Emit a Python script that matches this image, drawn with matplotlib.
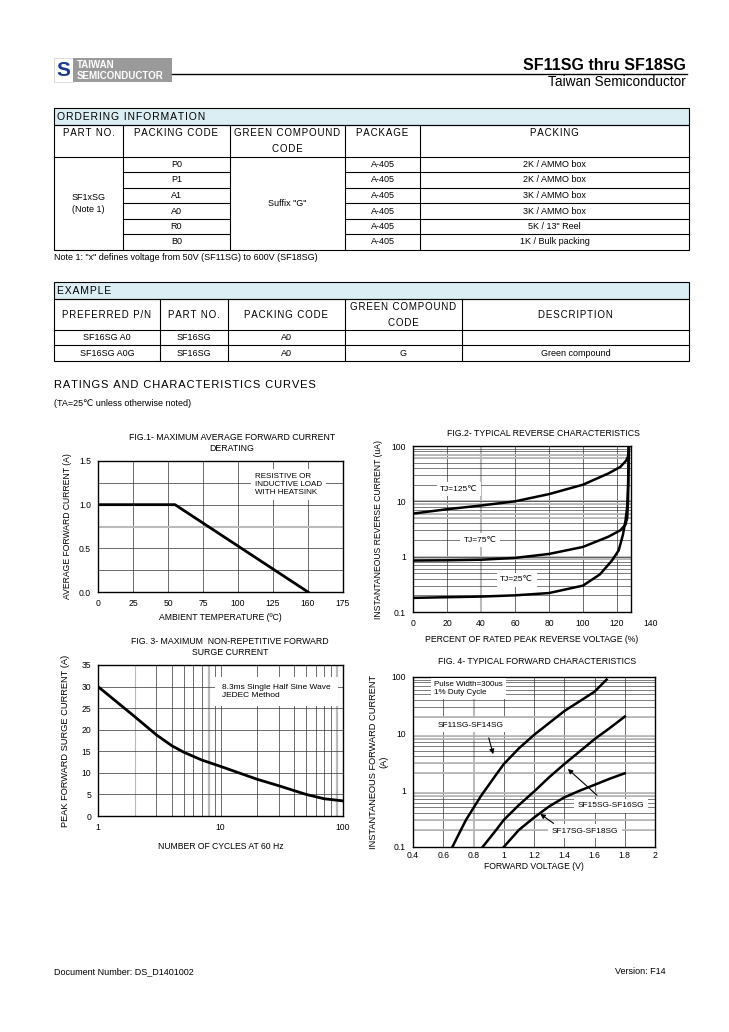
import numpy as np
import matplotlib
matplotlib.use("Agg")
import matplotlib.pyplot as plt
from matplotlib.patches import Rectangle

plt.rcParams["font.family"] = ["Liberation Sans", "DejaVu Sans"]

# ---- data ----
order_headers = ["PART NO.", "PACKING CODE", "GREEN COMPOUND\nCODE", "PACKAGE", "PACKING"]
order_part = "SF1xSG\n(Note 1)"
order_green = 'Suffix "G"'
order_codes = ["P0", "P1", "A1", "A0", "R0", "B0"]
order_package = ["A-405"] * 6
order_packing = ["2K / AMMO box", "2K / AMMO box", "3K / AMMO box",
                 "3K / AMMO box", '5K / 13" Reel', "1K / Bulk packing"]
order_note = 'Note 1: "x" defines voltage from 50V (SF11SG) to 600V (SF18SG)'

example_headers = ["PREFERRED P/N", "PART NO.", "PACKING CODE", "GREEN COMPOUND\nCODE", "DESCRIPTION"]
example_rows = [
    ["SF16SG A0", "SF16SG", "A0", "", ""],
    ["SF16SG A0G", "SF16SG", "A0", "G", "Green compound"],
]

# fig 1 - derating
fig1_temp = [0, 55, 150]
fig1_current = [1.0, 1.0, 0.0]
fig1_xticks = [0, 25, 50, 75, 100, 125, 150, 175]
fig1_xlabels = ["0", "25", "50", "75", "100", "125", "160", "175"]

# fig 2 - reverse characteristics (% of rated voltage, uA)
fig2_v125 = [0, 20, 40, 60, 80, 100, 115, 122, 125.5, 126.5, 127]
fig2_i125 = [6.0, 7.2, 8.4, 10.0, 13.5, 20.0, 32.0, 42.0, 55.0, 65.0, 100.0]
fig2_v75 = [0, 20, 40, 60, 80, 100, 115, 122, 125, 126, 126.5, 127]
fig2_i75 = [0.85, 0.86, 0.88, 0.95, 1.12, 1.5, 2.3, 3.0, 3.8, 5.0, 10.0, 100.0]
fig2_v25 = [0, 20, 40, 60, 80, 100, 110, 117, 121, 123.5, 125, 126, 126.5, 127]
fig2_i25 = [0.18, 0.185, 0.19, 0.2, 0.22, 0.3, 0.48, 0.85, 1.3, 2.5, 4.5, 8.0, 20.0, 100.0]

# fig 3 - surge current
fig3_cycles = [1, 2, 3, 4, 5, 7, 10, 20, 30, 50, 70, 100]
fig3_current = [30, 23, 18.8, 16.3, 14.8, 13.0, 11.5, 8.5, 7.0, 5.0, 4.0, 3.5]

# fig 4 - forward characteristics (V, A)
fig4_v1 = [0.66, 0.75, 0.85, 0.95, 1.0, 1.1, 1.2, 1.4, 1.6, 1.68]
fig4_i1 = [0.1, 0.3, 0.8, 1.9, 2.9, 5.5, 9.5, 25.0, 55.0, 90.0]
fig4_v2 = [0.86, 0.95, 1.0, 1.1, 1.2, 1.3, 1.4, 1.5, 1.6, 1.7, 1.8]
fig4_i2 = [0.1, 0.2, 0.3, 0.55, 0.95, 1.7, 2.9, 4.8, 8.0, 12.5, 20.0]
fig4_v3 = [1.0, 1.1, 1.2, 1.3, 1.4, 1.5, 1.6, 1.7, 1.8]
fig4_i3 = [0.1, 0.2, 0.33, 0.52, 0.75, 0.98, 1.25, 1.6, 2.0]

W, H = 729, 1032
fig = plt.figure(figsize=(W / 100, H / 100), dpi=100)

page = fig.add_axes([0, 0, 1, 1])
page.set_xlim(0, W)
page.set_ylim(H, 0)
page.axis("off")


def add_ax(x0, y0, x1, y1):
    return fig.add_axes([x0 / W, 1 - y1 / H, (x1 - x0) / W, (y1 - y0) / H])


def hline(x0, x1, y, lw=0.8):
    page.plot([x0, x1], [y, y], color="black", lw=lw)


def vline(x, y0, y1, lw=0.8):
    page.plot([x, x], [y0, y1], color="black", lw=lw)


def spaced(s):
    # loose letter spacing like the datasheet headings
    return "\n".join("\u200a".join(line) for line in s.split("\n"))


# ---- header ----
page.add_patch(Rectangle((54, 58), 19, 24, facecolor="white", edgecolor="#cccccc", lw=0.5))
page.text(63.5, 70.5, "S", color="#1f3d8f", fontsize=15, fontweight="bold", ha="center", va="center")
page.add_patch(Rectangle((73, 58), 99, 24, facecolor="#9a9a9a", edgecolor="none"))
page.text(77, 64.5, "TAIWAN", color="white", fontsize=7, fontweight="bold", va="center")
page.text(77, 76, "SEMICONDUCTOR", color="white", fontsize=7, fontweight="bold", va="center")
hline(172, 687, 74, lw=1.0)
page.text(686, 70.5, "SF11SG thru SF18SG", fontsize=11.5, fontweight="bold", ha="right", va="baseline")
page.text(686, 86.5, "Taiwan Semiconductor", fontsize=9.8, ha="right", va="baseline")

# ---- ordering information table ----
cols = [54, 123, 230, 345, 420, 689]
page.add_patch(Rectangle((54, 108), 635, 17, facecolor="#dbeef4", edgecolor="black", lw=0.8))
page.text(57, 116.5, spaced("ORDERING INFORMATION"), fontsize=7.5, va="center")
rows = [125, 157, 172, 188, 203, 219, 234, 250]
page.add_patch(Rectangle((54, 125), 635, 125, facecolor="none", edgecolor="black", lw=0.8))
hline(54, 689, 157)
for y in rows[2:-1]:
    hline(123, 230, y)
    hline(345, 689, y)
for x in cols[1:-1]:
    vline(x, 125, 250)
for i, h in enumerate(order_headers):
    page.text((cols[i] + cols[i + 1]) / 2, 128, spaced(h), fontsize=7, ha="center", va="top",
              linespacing=1.75)
for r in range(len(order_codes)):
    yc = (rows[r + 1] + rows[r + 2]) / 2
    page.text((cols[1] + cols[2]) / 2, yc, order_codes[r], fontsize=6.5, ha="center", va="center")
    page.text((cols[3] + cols[4]) / 2, yc, order_package[r], fontsize=6.5, ha="center", va="center")
    page.text((cols[4] + cols[5]) / 2, yc, order_packing[r], fontsize=6.5, ha="center", va="center")
page.text((cols[0] + cols[1]) / 2, 203.5, order_part, fontsize=6.5, ha="center", va="center",
          linespacing=1.5)
page.text((cols[2] + cols[3]) / 2, 203.5, order_green, fontsize=6.5, ha="center", va="center")
page.text(54, 257.5, order_note, fontsize=6.5, va="center")

# ---- example table ----
cols = [54, 160, 228, 345, 462, 689]
page.add_patch(Rectangle((54, 282), 635, 17, facecolor="#dbeef4", edgecolor="black", lw=0.8))
page.text(57, 290.5, spaced("EXAMPLE"), fontsize=7.5, va="center")
rows = [299, 330, 345, 361]
page.add_patch(Rectangle((54, 299), 635, 62, facecolor="none", edgecolor="black", lw=0.8))
for y in rows[1:-1]:
    hline(54, 689, y)
for x in cols[1:-1]:
    vline(x, 299, 361)
for i, h in enumerate(example_headers):
    page.text((cols[i] + cols[i + 1]) / 2, 314.5, spaced(h), fontsize=7, ha="center", va="center",
              linespacing=1.75)
for r, row in enumerate(example_rows):
    yc = (rows[r + 1] + rows[r + 2]) / 2
    for i, v in enumerate(row):
        page.text((cols[i] + cols[i + 1]) / 2, yc, v, fontsize=6.5, ha="center", va="center")

page.text(54, 385, spaced("RATINGS AND CHARACTERISTICS CURVES"), fontsize=8, va="center")
page.text(54, 404, "(TA=25\u2103 unless otherwise noted)", fontsize=6.5, va="center")

# footer
page.text(54, 972, "Document Number: DS_D1401002", fontsize=6.5, va="center")
page.text(666, 972, "Version: F14", fontsize=6.5, va="center", ha="right")

DARK = "#333333"
GRAY = "#bbbbbb"
TS = 6.2


def style(ax):
    for s in ax.spines.values():
        s.set_linewidth(1.0)
    ax.tick_params(length=0, labelsize=TS, pad=5)


# ---- fig 1 ----
ax1 = add_ax(98, 461, 343, 592)
for x in [25, 50, 75, 100, 125, 150]:
    ax1.axvline(x, color=DARK, lw=0.5)
for y in [0.25, 0.5, 1.0, 1.25]:
    ax1.axhline(y, color=DARK, lw=0.5)
ax1.axhline(0.75, color=GRAY, lw=1.5)
ax1.plot(fig1_temp, fig1_current, color="black", lw=2.0)
ax1.set_xlim(0, 175)
ax1.set_ylim(0, 1.5)
ax1.set_xticks(fig1_xticks)
ax1.set_xticklabels(fig1_xlabels)
ax1.set_yticks([0, 0.5, 1.0, 1.5])
ax1.set_yticklabels(["0.0", "0.5", "1.0", "1.5"])
style(ax1)
ax1.text(112, 1.36, "RESISTIVE OR\nINDUCTIVE LOAD\nWITH HEATSINK", fontsize=5.8, va="top",
         bbox=dict(facecolor="white", edgecolor="none", pad=3))
ax1.set_xlabel("AMBIENT TEMPERATURE (\u00baC)", fontsize=6.2, labelpad=4)
ax1.set_ylabel("AVERAGE FORWARD CURRENT (A)", fontsize=6.2, labelpad=5)
page.text(232, 443, "FIG.1- MAXIMUM AVERAGE FORWARD CURRENT\nDERATING", fontsize=6.3,
          ha="center", va="center", linespacing=1.2)

# ---- fig 2 ----
# the plotted frame stops at ~128 % while the scale runs to 140
XR = 128
ax2 = add_ax(413, 446, 651, 612)
ax2.set_xlim(0, 140)
ax2.set_ylim(0.1, 100)
ax2.set_yscale("log")
ax2.vlines([20, 60, 80, 100, 120], 0.1, 100, color=DARK, lw=0.5)
ax2.vlines([40], 0.1, 100, color=GRAY, lw=1.5)
for d in [0.1, 1, 10]:
    ax2.hlines([d * m for m in range(2, 10)], 0, XR, color=DARK, lw=0.45)
ax2.hlines([0.9, 1, 5, 6, 9, 10, 60, 70], 0, XR, color=GRAY, lw=1.3)
ax2.hlines([1, 10], 0, XR, color=DARK, lw=0.5)
ax2.plot(fig2_v125, fig2_i125, color="black", lw=1.8)
ax2.plot(fig2_v75, fig2_i75, color="black", lw=1.8)
ax2.plot(fig2_v25, fig2_i25, color="black", lw=1.8)
ax2.spines["right"].set_position(("data", XR))
ax2.spines["top"].set_bounds(0, XR)
ax2.spines["bottom"].set_bounds(0, XR)
ax2.set_xticks(range(0, 141, 20))
ax2.set_yticks([0.1, 1, 10, 100])
ax2.set_yticklabels(["0.1", "1", "10", "100"])
ax2.minorticks_off()
style(ax2)
lab = dict(fontsize=6, ha="center", va="center",
           bbox=dict(facecolor="white", edgecolor="none", pad=2.5))
ax2.text(27, 16.7, "TJ=125\u2103", **lab)
ax2.text(39.5, 2.0, "TJ=75\u2103", **lab)
ax2.text(61, 0.38, "TJ=25\u2103", **lab)
ax2.set_xlabel("PERCENT OF RATED PEAK REVERSE VOLTAGE (%)", fontsize=6.2, labelpad=5)
ax2.set_ylabel("INSTANTANEOUS REVERSE CURRENT (uA)", fontsize=6.2, labelpad=6)
page.text(543, 434, "FIG.2- TYPICAL REVERSE CHARACTERISTICS", fontsize=6.3,
          ha="center", va="center")

# ---- fig 3 ----
ax3 = add_ax(98, 665, 343, 816)
for x in [3, 4, 5, 6, 7, 9, 10, 20, 30, 40, 50, 60, 70, 80]:
    ax3.axvline(x, color=DARK, lw=0.5)
ax3.axvline(2, color=GRAY, lw=0.8)
for x in [8, 90]:
    ax3.axvline(x, color=GRAY, lw=1.6)
for y in range(5, 35, 5):
    ax3.axhline(y, color=DARK, lw=0.5)
ax3.plot(fig3_cycles, fig3_current, color="black", lw=2.0)
ax3.set_xscale("log")
ax3.set_xlim(1, 100)
ax3.set_ylim(0, 35)
ax3.set_xticks([1, 10, 100])
ax3.set_xticklabels(["1", "10", "100"])
ax3.set_yticks(range(0, 36, 5))
ax3.minorticks_off()
style(ax3)
ax3.text(10.3, 30.6, "8.3ms Single Half Sine Wave\nJEDEC Method", fontsize=6, va="top",
         bbox=dict(facecolor="white", edgecolor="none", pad=5))
ax3.set_xlabel("NUMBER OF CYCLES AT 60 Hz", fontsize=6.2, labelpad=7)
ax3.set_ylabel("PEAK FORWARD SURGE CURRENT (A)", fontsize=6.7, labelpad=8)
page.text(230, 647, "FIG. 3- MAXIMUM  NON-REPETITIVE FORWARD\nSURGE CURRENT", fontsize=6.3,
          ha="center", va="center", linespacing=1.2)

# ---- fig 4 ----
ax4 = add_ax(413, 677, 655, 847)
for x in [0.6, 1.0, 1.2, 1.4, 1.6, 1.8]:
    ax4.axvline(x, color=DARK, lw=0.5)
ax4.axvline(0.8, color=GRAY, lw=1.5)
for d in [0.1, 1, 10]:
    for m in range(2, 10):
        ax4.axhline(d * m, color=DARK, lw=0.45)
for y in [0.2, 0.3, 0.8, 0.9, 2, 3, 8, 9, 20]:
    ax4.axhline(y, color=GRAY, lw=1.3)
ax4.plot(fig4_v1, fig4_i1, color="black", lw=1.8)
ax4.plot(fig4_v2, fig4_i2, color="black", lw=1.8)
ax4.plot(fig4_v3, fig4_i3, color="black", lw=1.8)
ax4.set_yscale("log")
ax4.set_xlim(0.4, 2.0)
ax4.set_ylim(0.1, 100)
ax4.set_xticks([0.4, 0.6, 0.8, 1.0, 1.2, 1.4, 1.6, 1.8, 2.0])
ax4.set_xticklabels(["0.4", "0.6", "0.8", "1", "1.2", "1.4", "1.6", "1.8", "2"])
ax4.set_yticks([0.1, 1, 10, 100])
ax4.set_yticklabels(["0.1", "1", "10", "100"])
ax4.minorticks_off()
style(ax4)
ax4.tick_params(axis="x", pad=3)
ax4.text(0.54, 85, "Pulse Width=300us\n1% Duty Cycle", fontsize=5.8, va="top",
         bbox=dict(facecolor="white", edgecolor="none", pad=2.5))
arr = dict(arrowstyle="-|>", color="black", lw=0.8, mutation_scale=7)
ax4.text(0.783, 14, "SF11SG-SF14SG", **lab)
ax4.annotate("", xy=(0.935, 3.9), xytext=(0.896, 9.4), arrowprops=arr)
ax4.text(1.709, 0.53, "SF15SG-SF16SG", **lab)
ax4.annotate("", xy=(1.41, 2.57), xytext=(1.63, 0.76), arrowprops=arr)
ax4.text(1.537, 0.19, "SF17SG-SF18SG", **lab)
ax4.annotate("", xy=(1.226, 0.41), xytext=(1.345, 0.244), arrowprops=arr)
ax4.set_xlabel("FORWARD VOLTAGE (V)", fontsize=6.2, labelpad=1)
ax4.set_ylabel("INSTANTANEOUS FORWARD CURRENT\n(A)", fontsize=6.7, labelpad=2,
               linespacing=1.3)
page.text(537, 662, "FIG. 4- TYPICAL FORWARD CHARACTERISTICS", fontsize=6.3,
          ha="center", va="center")

fig.savefig("out.png", dpi=100)
